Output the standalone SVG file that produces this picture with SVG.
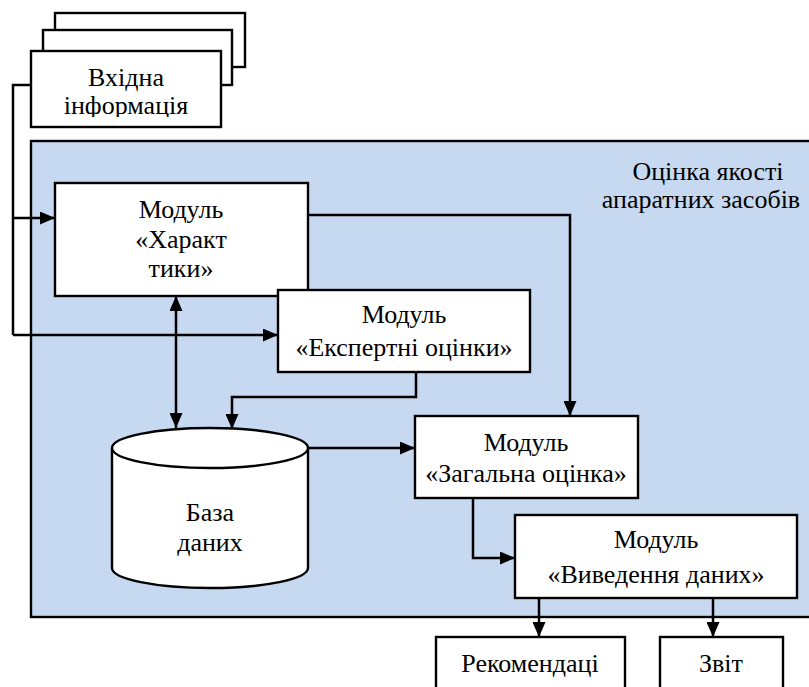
<svg xmlns="http://www.w3.org/2000/svg" width="809" height="687" viewBox="0 0 809 687">
  <style>
    .box { fill: #ffffff; stroke: #000000; stroke-width: 2.4; }
    .area { fill: #c6d9f0; stroke: #000000; stroke-width: 2.4; }
    .wire { fill: none; stroke: #000000; stroke-width: 2.5; }
    .lbl { font-family: 'Liberation Serif', 'DejaVu Serif', serif; font-size: 26px; fill: #000000; text-anchor: middle; }
  </style>
  <defs>
    <marker id="arrow" viewBox="0 0 15 13" refX="15" refY="6.5" markerWidth="15" markerHeight="13" markerUnits="userSpaceOnUse" orient="auto-start-reverse">
      <path d="M0,0 L15,6.5 L0,13 Z" fill="#000000"/>
    </marker>
    <clipPath id="inputClip">
      <rect x="31" y="51" width="190" height="66"/>
    </clipPath>
  </defs>

  <!-- system boundary -->
  <g id="system">
    <rect class="area" x="31" y="141" width="790" height="476"/>
    <text class="lbl" x="708" y="180">Оцінка якості</text>
    <text class="lbl" x="701" y="208">апаратних засобів</text>
  </g>

  <!-- stacked input documents -->
  <g id="input">
    <rect class="box" x="55" y="13" width="190" height="54"/>
    <rect class="box" x="43" y="30" width="189" height="55"/>
    <rect class="box" x="31" y="51" width="190" height="76"/>
    <g clip-path="url(#inputClip)">
      <text class="lbl" x="126" y="86">Вхідна</text>
      <text class="lbl" x="126" y="114">інформація</text>
    </g>
  </g>

  <g id="connectors">
    <path class="wire" d="M31,85 H13 V335"/>
    <path class="wire" d="M13,218 H55" marker-end="url(#arrow)"/>
    <path class="wire" d="M13,335 H278" marker-end="url(#arrow)"/>
    <path class="wire" d="M176,296 V428" marker-start="url(#arrow)" marker-end="url(#arrow)"/>
    <path class="wire" d="M416,372 V397 H232 V429" marker-end="url(#arrow)"/>
    <path class="wire" d="M308,215 H570 V416" marker-end="url(#arrow)"/>
    <path class="wire" d="M308,448 H415" marker-end="url(#arrow)"/>
    <path class="wire" d="M473,498 V558 H515" marker-end="url(#arrow)"/>
    <path class="wire" d="M539,598 V637" marker-end="url(#arrow)"/>
    <path class="wire" d="M713,598 V637" marker-end="url(#arrow)"/>
  </g>

  <g id="mod-characteristics">
    <rect class="box" x="55" y="183" width="253" height="113"/>
    <text class="lbl" x="181" y="218">Модуль</text>
    <text class="lbl" x="181" y="248">«Характ</text>
    <text class="lbl" x="181" y="277">тики»</text>
  </g>

  <g id="mod-expert">
    <rect class="box" x="278" y="290" width="252" height="82"/>
    <text class="lbl" x="404" y="323">Модуль</text>
    <text class="lbl" x="404" y="356">«Експертні оцінки»</text>
  </g>

  <g id="database">
    <path class="box" d="M112,448 V568 A98,20 0 0 0 308,568 V448"/>
    <ellipse class="box" cx="210" cy="448" rx="98" ry="20"/>
    <text class="lbl" x="210" y="521">База</text>
    <text class="lbl" x="210" y="551">даних</text>
  </g>

  <g id="mod-overall">
    <rect class="box" x="415" y="416" width="223" height="82"/>
    <text class="lbl" x="526" y="451">Модуль</text>
    <text class="lbl" x="526" y="482">«Загальна оцінка»</text>
  </g>

  <g id="mod-output">
    <rect class="box" x="515" y="515" width="282" height="83"/>
    <text class="lbl" x="656" y="548">Модуль</text>
    <text class="lbl" x="656" y="583">«Виведення даних»</text>
  </g>

  <g id="recommendations">
    <rect class="box" x="436" y="637" width="189" height="60"/>
    <text class="lbl" x="530" y="672">Рекомендаці</text>
  </g>

  <g id="report">
    <rect class="box" x="660" y="637" width="123" height="60"/>
    <text class="lbl" x="721" y="672">Звіт</text>
  </g>
</svg>
